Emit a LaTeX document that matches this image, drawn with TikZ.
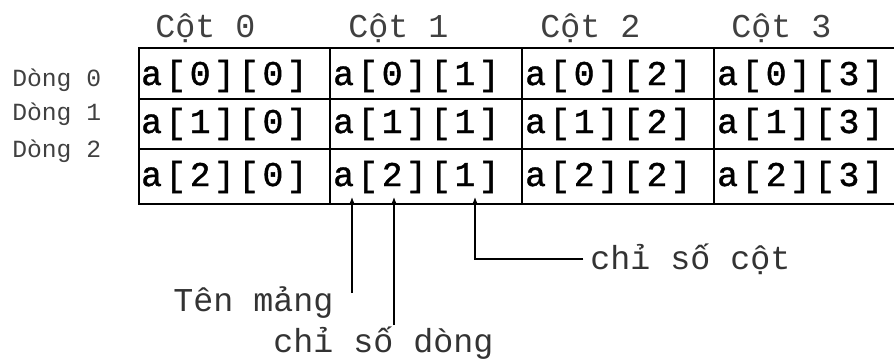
\documentclass[tikz,border=0pt]{standalone}
\usepackage{fontspec}
\usepackage{tikz}
\usetikzlibrary{arrows.meta}
\newfontfamily\cour{Liberation Mono}
\newfontfamily\courwide[LetterSpace=10,FakeBold=1.2]{Liberation Mono}

\begin{document}
\begin{tikzpicture}[x=0.75pt, y=-0.75pt]
	\tikzstyle{every node}+=[inner sep=0pt]
	\tikzstyle{cell}=[anchor=base west, text=black, font=\courwide\fontsize{26}{26}\selectfont]
	\tikzstyle{colhead}=[anchor=base west, text=black!75, font=\cour\fontsize{25}{26}\selectfont]
	\tikzstyle{rowhead}=[anchor=base west, text=black!75, font=\cour\fontsize{18.5}{20}\selectfont]
	\tikzstyle{note}=[text=black!80, font=\cour\fontsize{25}{26}\selectfont]
	\tikzstyle{pointer}=[black, line width=0.9pt, -{Latex[length=5pt,width=4pt]}]
	\useasboundingbox (0,0) rectangle (894,362);
	% grid
	\draw [black, line width=1pt] (894,48) -- (139,48) -- (139,204) -- (894,204);
	\draw [black, line width=1pt] (139,99) -- (894,99);
	\draw [black, line width=1pt] (139,149) -- (894,149);
	\draw [black, line width=1pt] (330,48) -- (330,204);
	\draw [black, line width=1pt] (522,48) -- (522,204);
	\draw [black, line width=1pt] (714,48) -- (714,204);
	% headers
	\node [colhead] (h0) at (155,37) {Cột 0};
	\node [colhead] (h1) at (348,37) {Cột 1};
	\node [colhead] (h2) at (540,37) {Cột 2};
	\node [colhead] (h3) at (731,37) {Cột 3};
	\node [rowhead] (r0) at (12,86) {Dòng 0};
	\node [rowhead] (r1) at (12,120) {Dòng 1};
	\node [rowhead] (r2) at (12,157) {Dòng 2};
	% cells
	\node [cell] (c00) at (141,85) {a[0][0]};
	\node [cell] (c01) at (333,85) {a[0][1]};
	\node [cell] (c02) at (525,85) {a[0][2]};
	\node [cell] (c03) at (717,85) {a[0][3]};
	\node [cell] (c10) at (141,133) {a[1][0]};
	\node [cell] (c11) at (333,133) {a[1][1]};
	\node [cell] (c12) at (525,133) {a[1][2]};
	\node [cell] (c13) at (717,133) {a[1][3]};
	\node [cell] (c20) at (141,186) {a[2][0]};
	\node [cell] (c21) at (333,186) {a[2][1]};
	\node [cell] (c22) at (525,186) {a[2][2]};
	\node [cell] (c23) at (717,186) {a[2][3]};
	% pointers
	\node [note, anchor=base west] (name) at (173,311) {Tên mảng};
	\node [note, anchor=base west] (rowidx) at (273,352) {chỉ số dòng};
	\node [note, anchor=west] (colidx) at (590,259) {chỉ số cột};
	\coordinate (tipname) at (352,197);
	\coordinate (tiprow) at (394,197);
	\coordinate (tipcol) at (475,197);
	\coordinate (endname) at (352,293);
	\coordinate (endrow) at (394,325);
	\draw [pointer] (endname) -- (tipname);
	\draw [pointer] (endrow) -- (tiprow);
	\draw [pointer] ([xshift=-5pt]colidx.west) -| (tipcol);
\end{tikzpicture}
\end{document}
